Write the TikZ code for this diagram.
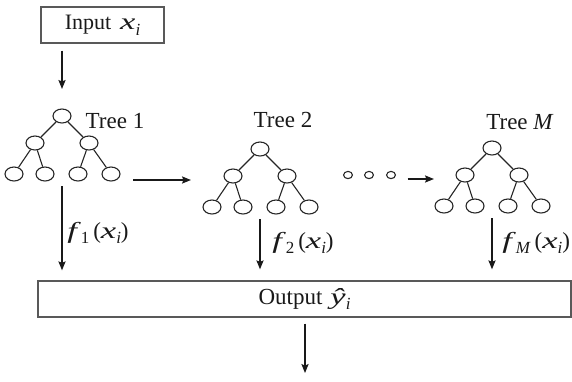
\documentclass[tikz,border=0pt]{standalone}
\usepackage{graphicx}
\usepackage{fontspec}
\setmainfont{Liberation Serif}
\usetikzlibrary{shapes.geometric,arrows.meta}
\newcommand\wi[1]{\scalebox{1.5}[1]{\textit{#1}}}
\newcommand\sbi[1]{\raisebox{-0.25em}{\fontsize{8.5}{9}\selectfont\textit{#1}}}
\newcommand\sbr[1]{\raisebox{-0.25em}{\fontsize{8.5}{9}\selectfont #1}}
\newcommand\drawtree[3]{%
\begin{scope}[shift={(#2,#3)}]
\node[nd] (#1r) at (0,0) {};
\node[nd] (#1a) at (-27,27) {};
\node[nd] (#1b) at (27,27) {};
\node[nd] (#1l1) at (-48,58) {};
\node[nd] (#1l2) at (-17,58) {};
\node[nd] (#1l3) at (16,58) {};
\node[nd] (#1l4) at (49,58) {};
\draw[edge] (#1r)--(#1a) (#1r)--(#1b) (#1a)--(#1l1) (#1a)--(#1l2) (#1b)--(#1l3) (#1b)--(#1l4);
\end{scope}}
\begin{document}
\begin{tikzpicture}[x=0.5pt,y=-0.5pt,
 nd/.style={ellipse,draw=black!85,line width=0.55pt,minimum width=9pt,minimum height=7pt,inner sep=0pt},
 dotnd/.style={ellipse,draw=black!85,line width=0.55pt,minimum width=4.4pt,minimum height=3.6pt,inner sep=0pt},
 edge/.style={line width=0.55pt,draw=black!85},
 arr/.style={-{Stealth[length=4.5pt,width=3.6pt,inset=0.8pt]},line width=0.55pt,draw=black!90},
 lbl/.style={font=\fontsize{11.5}{13}\selectfont,inner sep=0pt,text=black!90},
 box/.style={draw=black!65,line width=0.7pt,inner sep=0pt,font=\fontsize{11.5}{13}\selectfont,text=black!90}]
\useasboundingbox (0,0) rectangle (572,381);
\drawtree{ta}{62}{116}
\drawtree{tb}{260}{149}
\drawtree{tm}{492}{148}
\node[lbl] (lab1) at (115,121) {Tree 1};
\node[lbl] (lab2) at (283,120) {Tree 2};
\node[lbl] (labm) at (520,122) {Tree \textit{M}};
\node[box,minimum width=61.5pt,minimum height=18pt] (input) at (102.5,25) {{\fontsize{11}{12}\selectfont Input}\hspace{4.5pt}\wi{x}\sbi{i}};
\node[box,minimum width=266.5pt,minimum height=18pt] (output) at (304.5,299) {Output\hspace{4pt}\wi{ŷ}\sbi{i}};
\node[dotnd] (d1) at (348,175) {};
\node[dotnd] (d2) at (369,175) {};
\node[dotnd] (d3) at (391,175) {};
\coordinate (hy) at (0,180);
\coordinate (hy2) at (0,179);
\coordinate (outend) at (305,373);
\draw[arr,shorten <=3.5pt,shorten >=9.75pt] (input.south -| tar) -- (tar.north);
\draw[arr,shorten <=6.25pt,shorten >=5.75pt] (tal4.east |- hy) -- (tbl1.west |- hy);
\draw[arr,shorten <=5.85pt,shorten >=0.25pt] (d3.east |- hy2) -- (tml1.west |- hy2);
\draw[arr,shorten <=2.25pt,shorten >=5pt] (tar |- tal4.south) -- (tar |- output.north);
\draw[arr,shorten <=2.25pt,shorten >=5.5pt] (tbr |- tbl4.south) -- (tbr |- output.north);
\draw[arr,shorten <=2.25pt,shorten >=5.5pt] (tmr |- tml4.south) -- (tmr |- output.north);
\draw[arr,shorten <=3pt] (output.south -| outend) -- (outend);
\node[lbl,anchor=west] (f1) at (67,233) {\wi{f}\sbr{1}\,(\wi{x}\sbi{i})};
\node[lbl,anchor=west] (f2) at (272,243) {\wi{f}\sbr{2}\,(\wi{x}\sbi{i})};
\node[lbl,anchor=west] (fm) at (502,243) {\wi{f}\sbi{M}\,(\wi{x}\sbi{i})};
\end{tikzpicture}
\end{document}
